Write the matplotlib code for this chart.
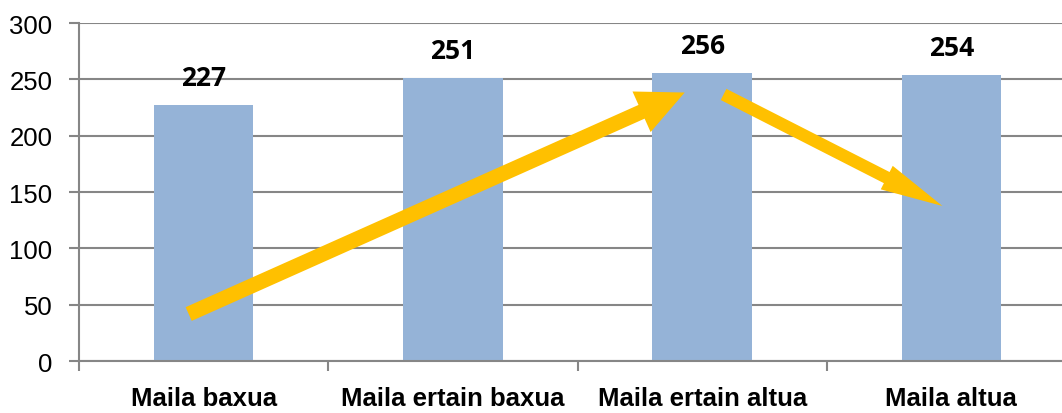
import matplotlib.pyplot as plt
from matplotlib.ticker import FixedLocator, MultipleLocator

categories = ['Maila baxua', 'Maila ertain baxua', 'Maila ertain altua', 'Maila altua']
values = [227, 251, 256, 254]

# arrows drawn over the bars: (start, tip) in data units
arrow_up = [(-0.06, 41.7), (1.93, 238.3)]
arrow_down = [(2.086, 236.6), (2.964, 137.6)]

plt.rcParams['font.family'] = ['Liberation Sans', 'DejaVu Sans']

fig = plt.figure(figsize=(10.62, 4.14), dpi=100)
ax = fig.add_axes([0.0744, 0.1256, 0.9388, 0.8164])

x = range(len(categories))
ax.bar(x, values, width=0.4, color='#95B3D7', zorder=2)

for i, v in zip(x, values):
    ax.annotate(str(v), (i, v), xytext=(0, 10), textcoords='offset points',
                ha='center', va='bottom', fontsize=19, fontweight='bold',
                family=['Open Sans', 'DejaVu Sans'])

ax.set_ylim(0, 300)
ax.set_xlim(-0.5, 3.5)
ax.yaxis.set_major_locator(MultipleLocator(50))
ax.grid(axis='y', color='#868686', linewidth=1.5, zorder=0)

ax.set_xticks(list(x))
ax.set_xticklabels(categories, fontsize=18.5, fontweight='bold')
ax.tick_params(axis='x', which='major', length=0, pad=18)
ax.xaxis.set_minor_locator(FixedLocator([-0.5, 0.5, 1.5, 2.5]))
ax.tick_params(axis='x', which='minor', length=7, width=1.5, color='#868686')
ax.tick_params(axis='y', length=7, width=1.5, color='#868686', labelsize=18.5, pad=12)

for s in ['top', 'right']:
    ax.spines[s].set_visible(False)
for s in ['left', 'bottom']:
    ax.spines[s].set_color('#868686')
    ax.spines[s].set_linewidth(1.5)

ax.annotate('', xy=arrow_up[1], xytext=arrow_up[0],
            arrowprops=dict(arrowstyle='simple,head_length=34,head_width=32,tail_width=10.8',
                            mutation_scale=1, color='#FFC000', shrinkA=0, shrinkB=0, lw=0),
            zorder=3)
ax.annotate('', xy=arrow_down[1], xytext=arrow_down[0],
            arrowprops=dict(arrowstyle='simple,head_length=45,head_width=19,tail_width=9',
                            mutation_scale=1, color='#FFC000', shrinkA=0, shrinkB=0, lw=0),
            zorder=3)

fig.savefig('out.png', dpi=100)
